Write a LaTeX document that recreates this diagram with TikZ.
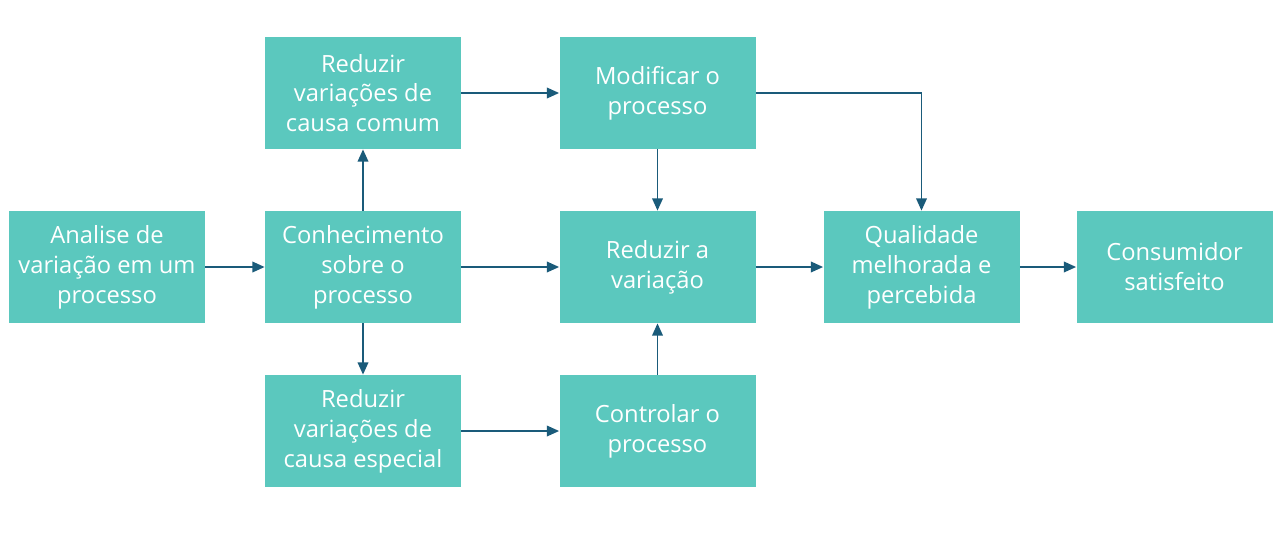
\documentclass[tikz,border=0pt]{standalone}
\usepackage{fontspec}
\setmainfont{Open Sans}
\usepackage{xcolor}
\usetikzlibrary{arrows.meta}
\definecolor{boxteal}{HTML}{5BC8BE}
\definecolor{linkblue}{HTML}{1A5B7A}

\begin{document}
\begin{tikzpicture}[
    stepbox/.style={fill=boxteal, minimum width=3.92cm, minimum height=2.24cm,
        inner sep=2pt, align=center, text=white, font=\fontsize{13.5}{17}\selectfont},
    link/.style={draw=linkblue, line width=1.1pt, -{Triangle[length=7pt,width=6pt]}}]
\useasboundingbox (0,0) rectangle (25.64,10.84);
\node[stepbox] (analise) at (2.14,5.50) {Analise de\\variação em um\\processo};
\node[stepbox] (conhec) at (7.26,5.50) {Conhecimento\\sobre o\\processo};
\node[stepbox] (comum) at (7.26,8.98) {Reduzir\\variações de\\causa comum};
\node[stepbox] (especial) at (7.26,2.22) {Reduzir\\variações de\\causa especial};
\node[stepbox] (modif) at (13.15,8.98) {Modificar o\\processo};
\node[stepbox] (reduz) at (13.15,5.50) {Reduzir a\\variação};
\node[stepbox] (control) at (13.15,2.22) {Controlar o\\processo};
\node[stepbox] (qualid) at (18.43,5.50) {Qualidade\\melhorada e\\percebida};
\node[stepbox] (consum) at (23.49,5.50) {Consumidor\\satisfeito};
% ligacoes
\draw[link] (analise) -- (conhec);
\draw[link] (conhec) -- (comum);
\draw[link] (conhec) -- (especial);
\draw[link] (conhec) -- (reduz);
\draw[link] (comum) -- (modif);
\draw[link] (modif) -- (reduz);
\draw[link] (especial) -- (control);
\draw[link] (control) -- (reduz);
\draw[link] (reduz) -- (qualid);
\draw[link] (modif.east) -| (qualid.north);
\draw[link] (qualid) -- (consum);
\end{tikzpicture}
\end{document}
